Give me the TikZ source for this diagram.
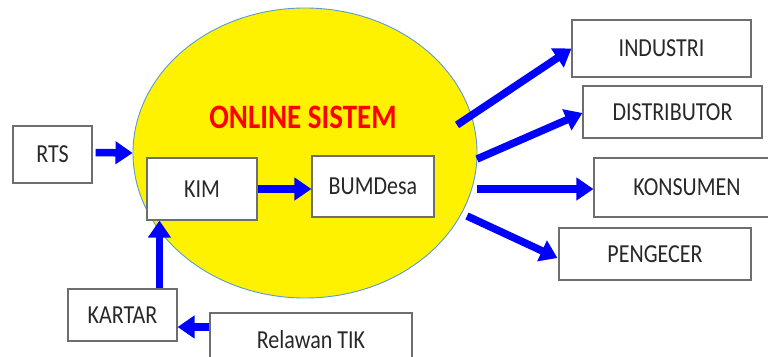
\documentclass[tikz,border=0pt]{standalone}
\usepackage{fontspec}
\setmainfont{Carlito}
\usepackage{graphicx}
\usetikzlibrary{arrows.meta,calc,shapes.geometric}
\definecolor{arrblue}{RGB}{0,0,255}
\definecolor{ellborder}{RGB}{91,155,213}
\definecolor{boxborder}{RGB}{110,110,110}
\definecolor{txt}{RGB}{40,40,40}
\newcommand{\vst}[1]{\scalebox{1}[1.18]{#1}}
\begin{document}
\begin{tikzpicture}[x=1pt,y=-1pt,
  box/.style={draw=boxborder,line width=1.1pt,fill=white,inner sep=0pt,
    text=txt,font=\fontsize{22}{24}\selectfont},
  arr/.style={draw=arrblue,line width=7.5pt,
    -{Triangle[length=17pt,width=22pt]},shorten >=0pt}]
\useasboundingbox (0,0) rectangle (768,356);
\begin{scope}
\clip (0,0) rectangle (768,356);
% ellipse
\node[ellipse,draw=ellborder,line width=0.9pt,fill=yellow,
  minimum width=344pt,minimum height=290pt,inner sep=0pt] (ell) at (305,153) {};
\node[text=red,font=\fontsize{29}{30}\selectfont\bfseries] (title) at (303,117) {\vst{ONLINE SISTEM}};
% boxes
\node[box,minimum width=79pt,minimum height=57pt] (RTS) at (52.5,154.5) {\vst{RTS}};
\node[box,minimum width=110pt,minimum height=62pt] (KIM) at (202,189) {\vst{KIM}};
\node[box,minimum width=122pt,minimum height=61pt] (BUM) at (373,186.5) {\vst{BUMDesa}};
\node[box,minimum width=109pt,minimum height=52pt] (KARTAR) at (122.5,315) {\vst{KARTAR}};
\node[box,minimum width=202pt,minimum height=54pt] (REL) at (311,340) {\vst{Relawan TIK}};
\node[box,minimum width=179pt,minimum height=57pt] (IND) at (661.5,48.5) {\vst{INDUSTRI}};
\node[box,minimum width=179pt,minimum height=52pt] (DIS) at (672.5,112) {\vst{DISTRIBUTOR}};
\node[box,minimum width=186pt,minimum height=59pt] (KON) at (687,187.5) {\vst{KONSUMEN}};
\node[box,minimum width=192pt,minimum height=52pt] (PEN) at (655,254) {\vst{PENGECER}};
% start points on the ellipse
\coordinate (s1) at (457,125);
\coordinate (s2) at (477,159);
\coordinate (s3) at (477,189);
\coordinate (s4) at (467,216);
% arrows
\draw[arr] ($(RTS.east)+(3,-2)$) -- (ell.west);
\draw[arr] (KIM.east) -- (KIM.east -| BUM.west);
\draw[arr] ($(KARTAR.north west)+(92,0)$) -- ($(KIM.south west)+(13,0)$);
\draw[arr] ($(REL.west)+(0,-13)$) -- ($(KARTAR.east)+(0,12)$);
\draw[arr] (s1) -- (IND.west);
\draw[arr] (s2) -- ($(DIS.west)+(0,1)$);
\draw[arr] (s3) -- ($(KON.west)+(0,1.5)$);
\draw[arr] (s4) -- ($(PEN.west)+(-1,4)$);
\end{scope}
\end{tikzpicture}
\end{document}
